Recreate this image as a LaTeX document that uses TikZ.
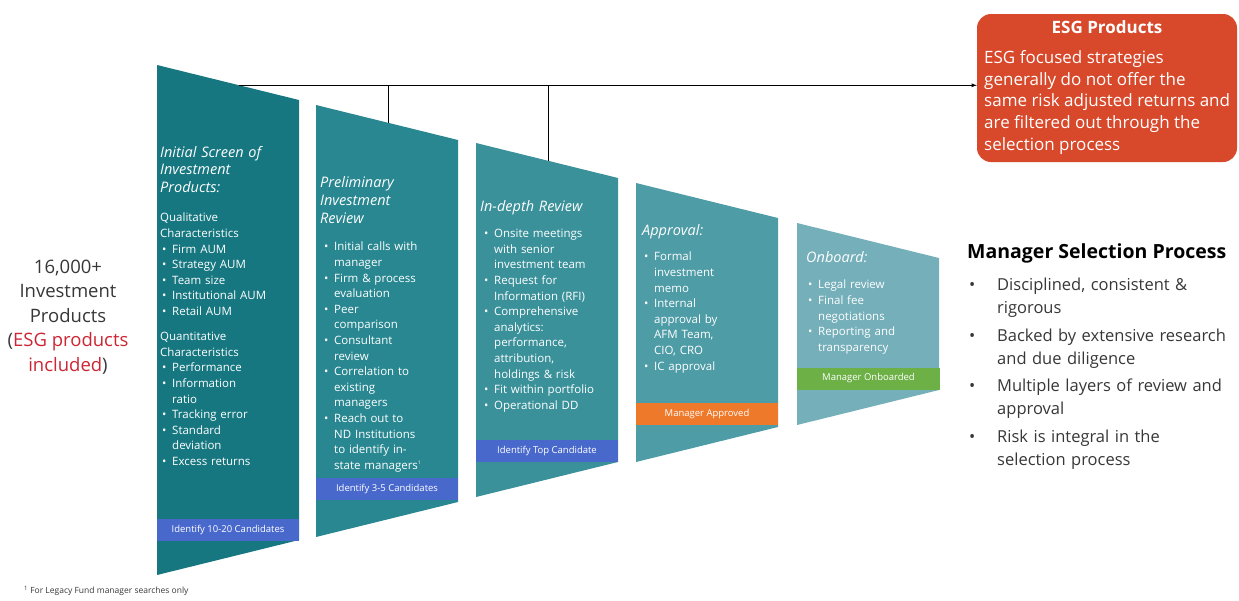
\documentclass[tikz,border=0pt]{standalone}
\usepackage{fontspec}
\setmainfont{Open Sans}
\usepackage{xcolor}
\usepackage{tikz}
\usetikzlibrary{arrows.meta, positioning, calc}

\definecolor{pone}{RGB}{22,119,128}
\definecolor{ptwo}{RGB}{40,135,144}
\definecolor{pthree}{RGB}{58,145,154}
\definecolor{pfour}{RGB}{78,156,166}
\definecolor{pfive}{RGB}{116,175,186}
\definecolor{bandblue}{RGB}{72,104,204}
\definecolor{bandorange}{RGB}{238,121,42}
\definecolor{bandgreen}{RGB}{108,176,70}
\definecolor{esgred}{RGB}{216,72,42}
\definecolor{esgtext}{RGB}{204,38,52}
\definecolor{bodygray}{RGB}{55,55,55}

% bullet line inside a panel
\newcommand{\bul}[1]{\hangindent=12pt\hangafter=1\noindent\hspace*{2pt}\makebox[10pt][l]{\textbullet}#1\par}
% bullet line on the right
\newcommand{\rbul}[1]{\hangindent=29pt\hangafter=1\noindent\hspace*{1pt}\makebox[28pt][l]{\textbullet}#1\par\vspace{4.5pt}}

\begin{document}
\begin{tikzpicture}[x=1pt,y=-1pt,>=latex]

\useasboundingbox (0,0) rectangle (1239,600);

\tikzset{
  head/.style={anchor=north west, inner sep=0pt, text=white, align=left,
    text width=140pt, font=\fontsize{14.5}{17.5}\selectfont\itshape},
  body/.style={anchor=north west, inner sep=0pt, text=white, align=left,
    text width=140pt, font=\fontsize{11.5}{15.6}\selectfont},
  band/.style={minimum width=142pt, minimum height=22pt, inner sep=0pt,
    text=white, font=\fontsize{9.5}{10}\selectfont}
}

% Funnel panels
\foreach \nm/\xl/\ytl/\ybl/\col in {p1/157/65/575/pone, p2/316/105/537/ptwo,
    p3/476/143/497/pthree, p4/636/183/462/pfour, p5/797/223/425/pfive}{
  \fill[\col] (\xl,\ytl) coordinate (\nm-tl) -- ++(142,35) coordinate (\nm-tr)
    -- (\xl+142,\ybl-35) -- (\xl,\ybl) -- cycle;
}

% Result bands
\node[band, fill=bandblue] (b1) at (228,529.5) {Identify 10-20 Candidates};
\node[band, fill=bandblue] (b2) at (387,489) {Identify 3-5 Candidates};
\node[band, fill=bandblue] (b3) at (547,451) {Identify Top Candidate};
\node[band, fill=bandorange] (b4) at (707,414) {Manager Approved};
\node[band, fill=bandgreen, minimum width=143pt] (b5) at (868.5,378.5) {Manager Onboarded};

% Panel 1
\node[head] (h1) at (160,146) {Initial Screen of\\Investment\\Products:};
\node[body] (l1) at (160,213) {Qualitative\newline Characteristics\par
  \bul{Firm AUM}
  \bul{Strategy AUM}
  \bul{Team size}
  \bul{Institutional AUM}
  \bul{Retail AUM}
  \vspace{9.5pt}\noindent Quantitative\newline Characteristics\par
  \bul{Performance}
  \bul{Information\newline ratio}
  \bul{Tracking error}
  \bul{Standard\newline deviation}
  \bul{Excess returns}};

% Panel 2
\node[head, font=\fontsize{14.5}{18}\selectfont\itshape] (h2) at (320,176) {Preliminary\\Investment\\Review};
\node[body] (l2) at (322,242) {\bul{Initial calls with\newline manager}
  \bul{Firm \& process\newline evaluation}
  \bul{Peer\newline comparison}
  \bul{Consultant\newline review}
  \bul{Correlation to\newline existing\newline managers}
  \bul{Reach out to\newline ND Institutions\newline to identify in-\newline state managers\textsuperscript{\tiny 1}}};

% Panel 3
\node[head] (h3) at (480,200) {In-depth Review};
\node[body] (l3) at (482,229) {\bul{Onsite meetings\newline with senior\newline investment team}
  \bul{Request for\newline Information (RFI)}
  \bul{Comprehensive\newline analytics:\newline performance,\newline attribution,\newline holdings \& risk}
  \bul{Fit within portfolio}
  \bul{Operational DD}};

% Panel 4
\node[head] (h4) at (642,224) {Approval:};
\node[body] (l4) at (642,252) {\bul{Formal\newline investment\newline memo}
  \bul{Internal\newline approval by\newline AFM Team,\newline CIO, CRO}
  \bul{IC approval}};

% Panel 5
\node[head] (h5) at (806,251) {Onboard:};
\node[body] (l5) at (806,280) {\bul{Legal review}
  \bul{Final fee\newline negotiations}
  \bul{Reporting and\newline transparency}};

% Starting universe
\node[align=center, inner sep=0pt, text=bodygray, font=\fontsize{18.5}{24.5}\selectfont]
  (total) at (68,317) {16,000+\\Investment\\Products\\({\color{esgtext}ESG products}\\{\color{esgtext}included})};

% ESG box
\node[fill=esgred, rounded corners=14pt, minimum width=260pt, minimum height=148pt,
  inner sep=0pt] (esg) at (1107,88) {};
\node[text=white, inner sep=0pt, font=\fontsize{17}{20}\selectfont\bfseries]
  (esgt) at (1107,27) {ESG Products};
\node[anchor=north west, text=white, inner sep=0pt, align=left,
  font=\fontsize{17}{21.8}\selectfont] (esgb) at (984,50)
  {ESG focused strategies\\generally do not offer the\\same risk adjusted returns and\\are filtered out through the\\selection process};

% Filter line to ESG box
\coordinate (lstart) at ($(p1-tl)!0.58!(p1-tr)$);
\coordinate (d2) at ($(p2-tl)!0.51!(p2-tr)$);
\coordinate (d3) at ($(p3-tl)!0.51!(p3-tr)$);
\draw[thick, ->] (lstart) -- (lstart -| esg.west);
\draw[thick] (d2) -- (d2 |- lstart);
\draw[thick] (d3) -- (d3 |- lstart);

% Manager selection summary
\node[anchor=west, inner sep=0pt, text=black, font=\fontsize{19.5}{22}\selectfont\bfseries]
  (msp) at (967,253) {Manager Selection Process};
\node[anchor=north west, inner sep=0pt, text=bodygray, align=left, text width=272pt,
  font=\fontsize{16.5}{23}\selectfont] (msl) at (968,278)
  {\rbul{Disciplined, consistent \&\newline rigorous}
   \rbul{Backed by extensive research\newline and due diligence}
   \rbul{Multiple layers of review and\newline approval}
   \rbul{Risk is integral in the\newline selection process}};

% Footnote
\node[anchor=west, inner sep=0pt, text=bodygray, font=\fontsize{8.5}{9}\selectfont]
  (fn) at (24,591) {\textsuperscript{1} For Legacy Fund manager searches only};

\end{tikzpicture}
\end{document}
